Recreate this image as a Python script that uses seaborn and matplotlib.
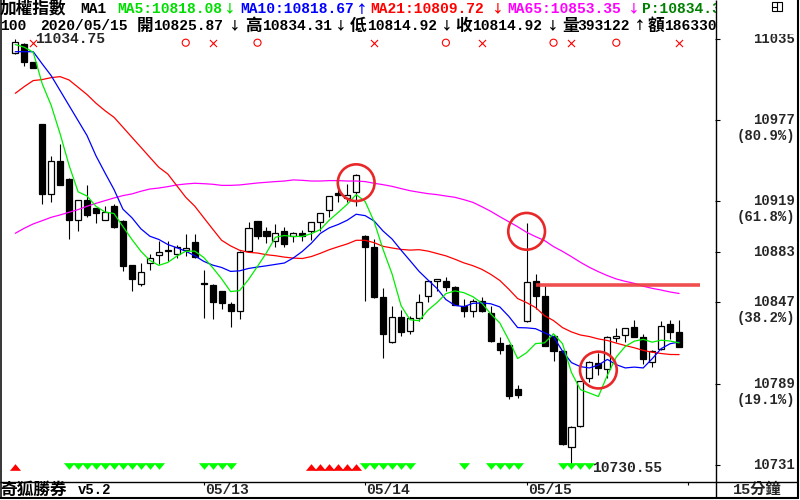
import numpy as np
import pandas as pd
import seaborn as sns
import matplotlib.pyplot as plt
from matplotlib import transforms
from matplotlib.patches import Rectangle

# 15-minute bars, 05/11 (last 3) .. 05/15
bars = list(range(75))
opens = [11025.0, 11031.4, 11018.3, 10974.3, 10924.4, 10948.2, 10935.1, 10906.0, 10920.1, 10914.4,
         10906.0, 10916.0, 10905.3, 10873.7, 10860.1, 10874.9, 10881.1, 10883.9, 10881.5, 10884.5,
         10889.9, 10861.0, 10859.4, 10854.9, 10845.8, 10840.6, 10883.9, 10904.9, 10897.7, 10890.6,
         10897.7, 10894.6, 10896.3, 10897.7, 10904.1, 10912.9, 10924.8, 10921.5, 10925.6, 10894.6,
         10886.3, 10850.6, 10818.5, 10836.8, 10826.3, 10835.6, 10851.8, 10862.0, 10862.5, 10857.7,
         10844.7, 10840.6, 10847.8, 10839.2, 10817.8, 10816.6, 10785.2, 10833.5, 10862.0, 10851.8,
         10823.2, 10812.5, 10743.5, 10759.0, 10792.8, 10803.5, 10799.4, 10821.6, 10823.7, 10829.2,
         10822.1, 10804.2, 10813.7, 10831.6, 10825.87]
highs = [11034.75, 11032.0, 11018.5, 10974.5, 10951.7, 10960.1, 10935.5, 10920.1, 10930.8, 10914.5,
         10916.0, 10917.0, 10906.0, 10874.0, 10874.9, 10881.5, 10891.1, 10891.1, 10888.0, 10895.8,
         10895.8, 10870.1, 10860.0, 10855.0, 10847.0, 10884.0, 10904.1, 10905.0, 10901.0, 10902.9,
         10901.0, 10897.0, 10898.7, 10904.5, 10911.0, 10923.0, 10931.5, 10931.5, 10938.5, 10895.0,
         10892.2, 10857.3, 10844.7, 10841.6, 10837.5, 10853.0, 10862.0, 10864.0, 10865.0, 10859.0,
         10849.4, 10849.4, 10850.6, 10844.7, 10822.5, 10817.0, 10788.2, 10903.7, 10867.3, 10859.0,
         10824.0, 10813.0, 10759.0, 10791.0, 10805.0, 10810.6, 10823.0, 10828.7, 10829.0, 10834.4,
         10824.4, 10813.0, 10833.9, 10834.4, 10834.31]
lows = [11024.0, 11016.0, 11014.0, 10917.2, 10918.4, 10931.0, 10892.2, 10897.7, 10908.0, 10903.4,
        10906.0, 10900.0, 10869.2, 10854.9, 10859.0, 10870.4, 10874.4, 10876.8, 10879.0, 10880.3,
        10879.0, 10835.9, 10835.1, 10842.3, 10829.2, 10835.4, 10883.0, 10892.2, 10889.2, 10886.3,
        10886.8, 10889.9, 10891.0, 10891.5, 10898.2, 10907.7, 10918.4, 10918.4, 10916.0, 10848.2,
        10850.0, 10807.3, 10818.0, 10823.0, 10824.4, 10833.9, 10847.0, 10855.4, 10854.9, 10845.0,
        10836.3, 10836.6, 10840.0, 10819.0, 10809.8, 10778.1, 10779.0, 10833.0, 10842.3, 10816.0,
        10805.4, 10745.0, 10730.55, 10758.0, 10789.9, 10795.0, 10793.1, 10818.5, 10818.5, 10822.0,
        10803.1, 10800.7, 10813.0, 10821.1, 10814.92]
closes = [11033.0, 11018.3, 11014.1, 10924.4, 10948.2, 10931.0, 10906.0, 10920.1, 10909.4, 10910.8,
          10911.3, 10900.6, 10873.2, 10863.7, 10868.5, 10878.7, 10882.7, 10883.9, 10886.3, 10886.0,
          10879.2, 10860.3, 10847.0, 10846.3, 10840.6, 10882.7, 10899.9, 10894.1, 10894.6, 10896.3,
          10888.7, 10896.3, 10894.6, 10904.1, 10910.6, 10922.7, 10923.9, 10923.9, 10938.2, 10886.3,
          10850.6, 10824.4, 10836.8, 10825.6, 10835.6, 10847.0, 10862.0, 10863.7, 10857.7, 10845.4,
          10840.6, 10848.2, 10840.6, 10819.2, 10813.3, 10780.4, 10781.1, 10861.3, 10851.8, 10816.1,
          10812.5, 10745.9, 10758.3, 10790.7, 10804.2, 10799.9, 10822.1, 10823.2, 10828.7, 10822.5,
          10806.6, 10812.1, 10829.9, 10826.1, 10814.92]

ma5 = [11031.0, 11029.1, 11025.5, 11003.0, 10987.6, 10967.2, 10944.7, 10925.9, 10922.9, 10915.5,
       10911.5, 10910.4, 10901.1, 10891.9, 10883.5, 10876.9, 10873.4, 10875.5, 10880.0, 10883.5,
       10883.6, 10879.1, 10871.8, 10863.8, 10854.7, 10855.4, 10863.3, 10872.7, 10882.4, 10893.5,
       10894.7, 10894.0, 10894.1, 10896.0, 10898.9, 10905.7, 10911.2, 10917.0, 10923.9, 10919.0,
       10904.6, 10884.7, 10867.3, 10844.7, 10834.6, 10833.9, 10841.4, 10846.8, 10853.2, 10855.2,
       10853.9, 10851.1, 10846.5, 10838.8, 10832.4, 10820.3, 10806.9, 10811.1, 10817.6, 10818.1,
       10824.6, 10817.5, 10796.9, 10784.7, 10782.3, 10779.8, 10795.0, 10808.0, 10815.6, 10819.3,
       10820.6, 10818.6, 10820.0, 10819.4, 10818.08]
ma10 = [11025.9, 11025.9, 11025.9, 11017.2, 11008.8, 10998.1, 10987.4, 10976.7, 10966.0, 10951.5,
        10939.4, 10927.6, 10913.5, 10907.4, 10899.5, 10894.2, 10891.9, 10888.3, 10886.0, 10883.5,
        10880.3, 10876.3, 10873.6, 10871.9, 10869.1, 10869.5, 10871.2, 10872.2, 10873.1, 10874.1,
        10875.1, 10878.7, 10883.4, 10889.2, 10896.2, 10900.2, 10902.6, 10905.6, 10909.9, 10908.9,
        10905.1, 10897.9, 10892.2, 10884.3, 10876.8, 10869.2, 10863.0, 10857.0, 10849.0, 10844.9,
        10843.9, 10846.3, 10846.6, 10846.0, 10843.8, 10837.1, 10829.0, 10828.8, 10828.2, 10825.3,
        10822.5, 10812.2, 10804.0, 10801.1, 10800.2, 10802.2, 10806.3, 10802.5, 10800.2, 10800.8,
        10800.2, 10806.8, 10814.0, 10817.5, 10818.67]
ma21 = [10996.2, 11001.0, 11005.3, 11006.0, 11007.4, 11008.1, 11005.7, 11000.5, 10995.3, 10989.1,
        10983.8, 10979.1, 10972.0, 10964.8, 10957.7, 10950.5, 10943.4, 10938.6, 10930.3, 10922.0,
        10915.7, 10907.5, 10899.3, 10891.3, 10887.3, 10884.2, 10882.7, 10882.2, 10881.0, 10880.3,
        10879.3, 10878.6, 10878.3, 10879.7, 10882.0, 10884.6, 10886.7, 10888.7, 10891.3, 10891.3,
        10889.6, 10887.0, 10885.8, 10884.8, 10884.3, 10884.6, 10883.6, 10881.9, 10880.2, 10877.8,
        10875.2, 10873.2, 10870.6, 10867.0, 10862.7, 10856.5, 10849.7, 10846.8, 10843.3, 10837.5,
        10834.0, 10829.0, 10825.9, 10823.7, 10822.6, 10820.9, 10819.8, 10817.9, 10816.2, 10814.6,
        10812.7, 10811.4, 10810.5, 10809.8, 10809.72]
ma65 = [10896.3, 10899.9, 10903.0, 10905.3, 10907.7, 10909.4, 10911.3, 10913.2, 10915.6, 10917.7,
        10919.6, 10921.5, 10923.2, 10924.4, 10926.3, 10927.9, 10928.6, 10929.6, 10930.8, 10931.5,
        10932.0, 10931.7, 10931.3, 10930.5, 10930.5, 10930.8, 10931.5, 10932.2, 10932.7, 10933.2,
        10933.6, 10934.4, 10934.1, 10933.6, 10933.6, 10933.9, 10933.9, 10933.6, 10933.6, 10933.2,
        10932.0, 10931.0, 10929.8, 10928.2, 10926.7, 10925.6, 10924.6, 10923.9, 10922.9, 10922.0,
        10920.3, 10918.4, 10915.3, 10912.0, 10908.2, 10904.6, 10901.0, 10897.0, 10893.9, 10891.1,
        10886.8, 10883.4, 10879.6, 10875.6, 10872.0, 10868.9, 10866.1, 10863.7, 10862.0, 10860.6,
        10858.5, 10857.0, 10855.8, 10854.4, 10853.35]

volume = 393122
amount = "186330"
date_ticks = [21, 39, 57, 75]
date_labels = ["05/13", "05/14", "05/15", ""]
price_ticks = [11035, 10977, 10919, 10883, 10847, 10789, 10731]
price_pcts = ["", "(80.9%)", "(61.8%)", "", "(38.2%)", "(19.1%)", ""]

buy_marks = [19, 27, 48, 60, 67]
sell_marks = [2, 22, 40, 52, 62, 74]
up_tri = [0, 33, 34, 35, 36, 37, 38]
down_tri = [6, 7, 8, 9, 10, 11, 12, 13, 14, 15, 16, 21, 22, 23, 24,
            39, 40, 41, 42, 43, 44, 50, 53, 54, 55, 56, 61, 62, 63, 64]
circle_bars = [38, 57, 65]
circle_prices = [10932.4, 10897.7, 10798.7]
level_price = 10859.5
level_from, level_to = 58, 76.3

W, H = 800, 500
sns.set_style("white")
plt.rcParams['font.family'] = ['Liberation Mono', 'Noto Sans CJK TC']
CJK = ['Noto Sans CJK TC', 'DejaVu Sans']

fig = plt.figure(figsize=(8, 5), dpi=100)
ax = fig.add_axes([1 / W, (H - 481.5) / H, 714 / W, 481.5 / H])

df = pd.DataFrame({'bar': bars, 'open': opens, 'high': highs, 'low': lows, 'close': closes})
rising = df['close'] >= df['open']
ax.vlines(df['bar'], df['low'], df['high'], color='black', lw=0.8, zorder=3)
body_low = df[['open', 'close']].min(axis=1)
body_h = (df['close'] - df['open']).abs().clip(lower=0.4)
ax.bar(df['bar'], body_h, bottom=body_low, width=0.68,
       color=np.where(rising, 'white', 'black'), edgecolor='black', linewidth=0.9, zorder=4)

# moving averages
for vals, col in [(ma65, '#ff00ff'), (ma21, '#ff0000'), (ma10, '#0000ff'), (ma5, '#00ee00')]:
    sns.lineplot(x=bars, y=vals, color=col, lw=0.9, ax=ax, legend=False, zorder=5)

# annotations
ax.scatter(circle_bars, circle_prices, s=700, facecolors='none', edgecolors='#e82828',
           linewidths=1.9, zorder=7)
ax.hlines(level_price, level_from, level_to, color='#ee3c3c', lw=2.6, alpha=0.9, zorder=6, clip_on=False)

xt = ax.get_xaxis_transform()
ax.scatter(buy_marks, [0.9113] * len(buy_marks), transform=xt, marker='o', s=26,
           facecolors='none', edgecolors='#ff0000', linewidths=0.8, zorder=6)
ax.scatter(sell_marks, [0.9113] * len(sell_marks), transform=xt, marker='x', s=26,
           color='#ff0000', linewidths=0.8, zorder=6)
tri_up = [(-1, -0.6), (1, -0.6), (0, 0.6)]
tri_dn = [(-1, 0.6), (1, 0.6), (0, -0.6)]
ax.scatter(up_tri, [0.031] * len(up_tri), transform=xt, marker=tri_up, s=64,
           color='#ff0000', linewidths=0, zorder=6)
ax.scatter(down_tri, [0.033] * len(down_tri), transform=xt, marker=tri_dn, s=64,
           color='#00ff00', linewidths=0, zorder=6)

ax.text(2.2, highs[0], f"{highs[0]:.2f}", ha='left', va='center', fontsize=10.5, fontweight='bold')
ax.text(64.3, lows[62] - 2, f"{lows[62]:.2f}", ha='left', va='center', fontsize=10.5, fontweight='bold')

ax.set_xlim(-1.594, 78.0)
ax.set_ylim(10719.15, 11062.8)
for s in ax.spines.values():
    s.set_visible(False)
ax.yaxis.tick_right()
ax.set_yticks(price_ticks)
ax.set_yticklabels([])
ax.set_xticks(date_ticks)
ax.set_xticklabels([])
ax.tick_params(axis='y', right=True, direction='out', length=3.5, width=0.8, color='black')
ax.tick_params(axis='x', bottom=True, direction='out', length=2.5, width=0.8, color='black')

# right price scale
blend = transforms.blended_transform_factory(ax.transAxes, ax.transData)
below = transforms.offset_copy(blend, fig=fig, y=-16, units='dots')
for p, pct in zip(price_ticks, price_pcts):
    ax.text(1.112, p, f"{p}", transform=blend, ha='right', va='center',
            fontsize=10, fontweight='bold', clip_on=False)
    if pct:
        ax.text(1.112, p, pct, transform=below, ha='right', va='center',
                fontsize=10, fontweight='bold', clip_on=False)

for b, lab in zip(date_ticks, date_labels):
    ax.text(b + 0.15, -0.017, lab, transform=xt, ha='left', va='center',
            fontsize=10.5, fontweight='bold', clip_on=False)

# overlay in pixel coordinates for header and frame
ov = fig.add_axes([0, 0, 1, 1], zorder=10)
ov.set_xlim(0, W)
ov.set_ylim(H, 0)
ov.axis('off')


def put(x, y, s, color='black', size=10.5, family=None, ha='left'):
    kw = {'family': family} if family else {}
    ov.text(x, y, s, color=color, fontsize=size, ha=ha, va='center',
            fontweight='bold', zorder=3, **kw)


def arrow(xc, y, s, color='black'):
    put(xc, y, s, color, 8.5, CJK, ha='center')


row1 = [("加權指數", 0, 'black'), ("MA1", 80, 'black'),
        (f"MA5:{ma5[-1]:.2f}", 117, '#00dd00'), ("↓", 230, '#00dd00'),
        (f"MA10:{ma10[-1]:.2f}", 240, '#0000ff'), ("↑", 362, '#0000ff'),
        (f"MA21:{ma21[-1]:.2f}", 370, '#ff0000'), ("↓", 498, '#ff0000'),
        (f"MA65:{ma65[-1]:.2f}", 507, '#ff00ff'), ("↓", 634, '#ff00ff'),
        (f"P:{highs[-1]:.2f}", 642, '#008000')]
for s, x, c in row1:
    if s in "↓↑":
        arrow(x, 9, s, c)
    elif s[0] == "加":
        put(x, 9, s, c, 12)
    else:
        put(x, 9, s, c)

row2 = [("100", 0), ("2020/05/15", 40),
        ("開", 137), (f"{opens[-1]:.2f}", 153), ("↓", 235),
        ("高", 245), (f"{highs[-1]:.2f}", 262), ("↓", 341),
        ("低", 350), (f"{lows[-1]:.2f}", 367), ("↓", 447),
        ("收", 455), (f"{closes[-1]:.2f}", 472), ("↓", 553),
        ("量", 562), (f"{volume}", 577), ("↑", 640),
        ("額", 648), (amount, 664)]
for s, x in row2:
    if s in "↓↑":
        arrow(x, 26, s)
    elif s in "開高低收量額":
        put(x, 26, s, 'black', 12)
    else:
        put(x, 26, s)

put(0, 490, "奇狐勝券", size=12)
put(78, 490, "v5.2", size=10)
ov.text(757, 490, "15分鐘", ha='center', va='center', fontsize=11, fontweight='bold')

# mask header overflow into the right panel
ov.add_patch(Rectangle((716.5, 0), 80, 34, facecolor='white', edgecolor='none', zorder=4))

frame = dict(color='black', solid_capstyle='butt', zorder=5)
ov.plot([0.7, 0.7], [0, 498], lw=1.1, **frame)
ov.plot([715.8, 715.8], [0, 498], lw=1.0, **frame)
ov.plot([0, 798], [481.8, 481.8], lw=1.0, **frame)
ov.plot([0, 799], [497.8, 497.8], lw=1.5, **frame)
ov.plot([797.8, 797.8], [0, 498], lw=1.5, **frame)
ov.add_patch(Rectangle((772, 2), 10, 9, fill=False, lw=0.8, edgecolor='black', zorder=5))
ov.plot([777, 777], [2, 11], lw=0.8, color='black', zorder=5)
ov.plot([772, 777], [6.5, 6.5], lw=0.8, color='black', zorder=5)

fig.savefig('out.png', dpi=100)
